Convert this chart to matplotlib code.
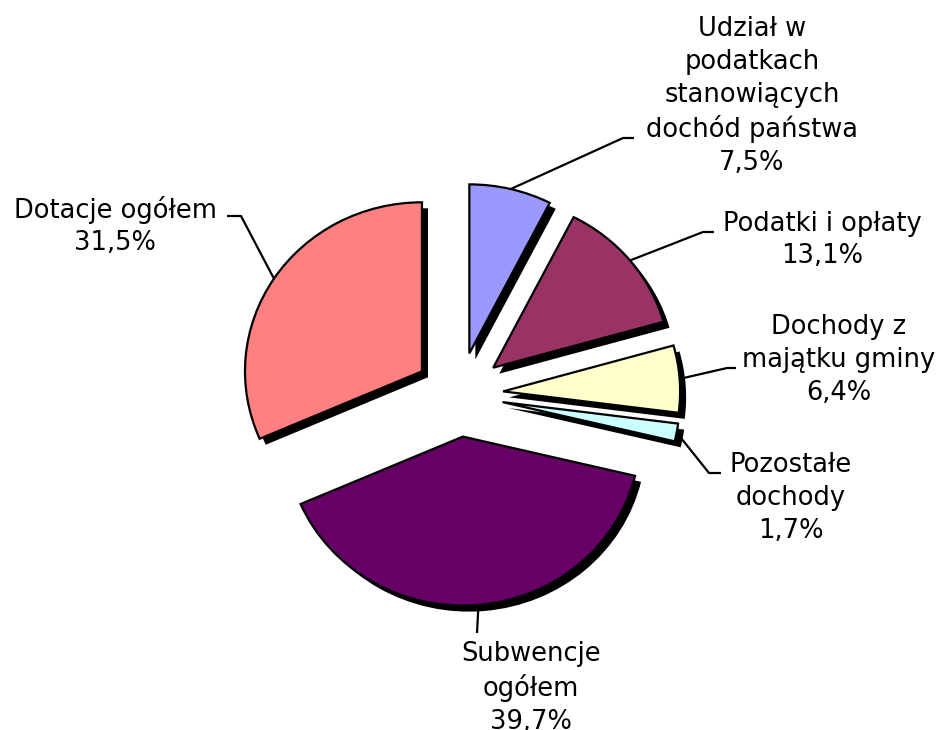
import matplotlib
matplotlib.use("Agg")
import matplotlib.pyplot as plt
import numpy as np

# ---- data ----
labels = ["Udział w\npodatkach\nstanowiących\ndochód państwa",
          "Podatki i opłaty",
          "Dochody z\nmajątku gminy",
          "Pozostałe\ndochody",
          "Subwencje\nogółem",
          "Dotacje ogółem"]
values = [7.5, 13.1, 6.4, 1.7, 39.7, 31.5]
pct_labels = ["7,5%", "13,1%", "6,4%", "1,7%", "39,7%", "31,5%"]
colors = ["#9999FF", "#993366", "#FFFFCC", "#CCFFFF", "#660066", "#FF8080"]

# ---- layout ----
W, H = 938, 730
SY = 0.955  # vertical squash of the pie (slightly elliptical)

fig = plt.figure(figsize=(W / 100, H / 100), dpi=100)
ax = fig.add_axes([0, 0, 1, 1])


def P(px, py):
    """pixel (from top-left) -> data coords"""
    return (px, (H - py) / SY)


R = 177
cx, cy = P(459, 394.5)
explode = [0.25 * R] * len(values)   # matplotlib explode is in data units
sh = (6, -6 / SY)

# shadow
ax.pie(values, explode=explode, colors=["black"] * len(values), startangle=90,
       counterclock=False, radius=R, center=(cx + sh[0], cy + sh[1]),
       wedgeprops=dict(linewidth=0), frame=True)
# main pie
wedges, _ = ax.pie(values, explode=explode, colors=colors, startangle=90,
                   counterclock=False, radius=R, center=(cx, cy),
                   wedgeprops=dict(linewidth=1.6, edgecolor="black"), frame=True)

ax.set_aspect("auto")
ax.set_xlim(0, W)
ax.set_ylim(0, H / SY)
ax.axis("off")

# label positions (pixel coords, block centre) and leader bends
label_pos = [(752, 96), (822, 240), (839, 360), (791, 498), (531, 688), (115, 226)]
leaders = [
    [(623, 138), (634, 138)],
    [(703, 232), (714, 232)],
    [(727, 368), (736, 368)],
    [(709, 473), (721, 473)],
    [(477, 633)],
    [(241, 216), (227, 216)],
]

fp = dict(family=["DejaVu Sans"], fontsize=18.5)
for w, lab, pct, (lx, ly), pts in zip(wedges, labels, pct_labels, label_pos, leaders):
    ax.text(*P(lx, ly), lab + "\n" + pct, ha="center", va="center",
            multialignment="center", linespacing=1.33, color="black", **fp)
    mid = np.deg2rad((w.theta1 + w.theta2) / 2)
    sx = w.center[0] + w.r * np.cos(mid)
    sy = w.center[1] + w.r * np.sin(mid)
    xs = [sx] + [P(*p)[0] for p in pts]
    ys = [sy] + [P(*p)[1] for p in pts]
    ax.plot(xs, ys, color="black", lw=1.6, solid_capstyle="butt")

fig.savefig("out.png", dpi=100, facecolor="white")
